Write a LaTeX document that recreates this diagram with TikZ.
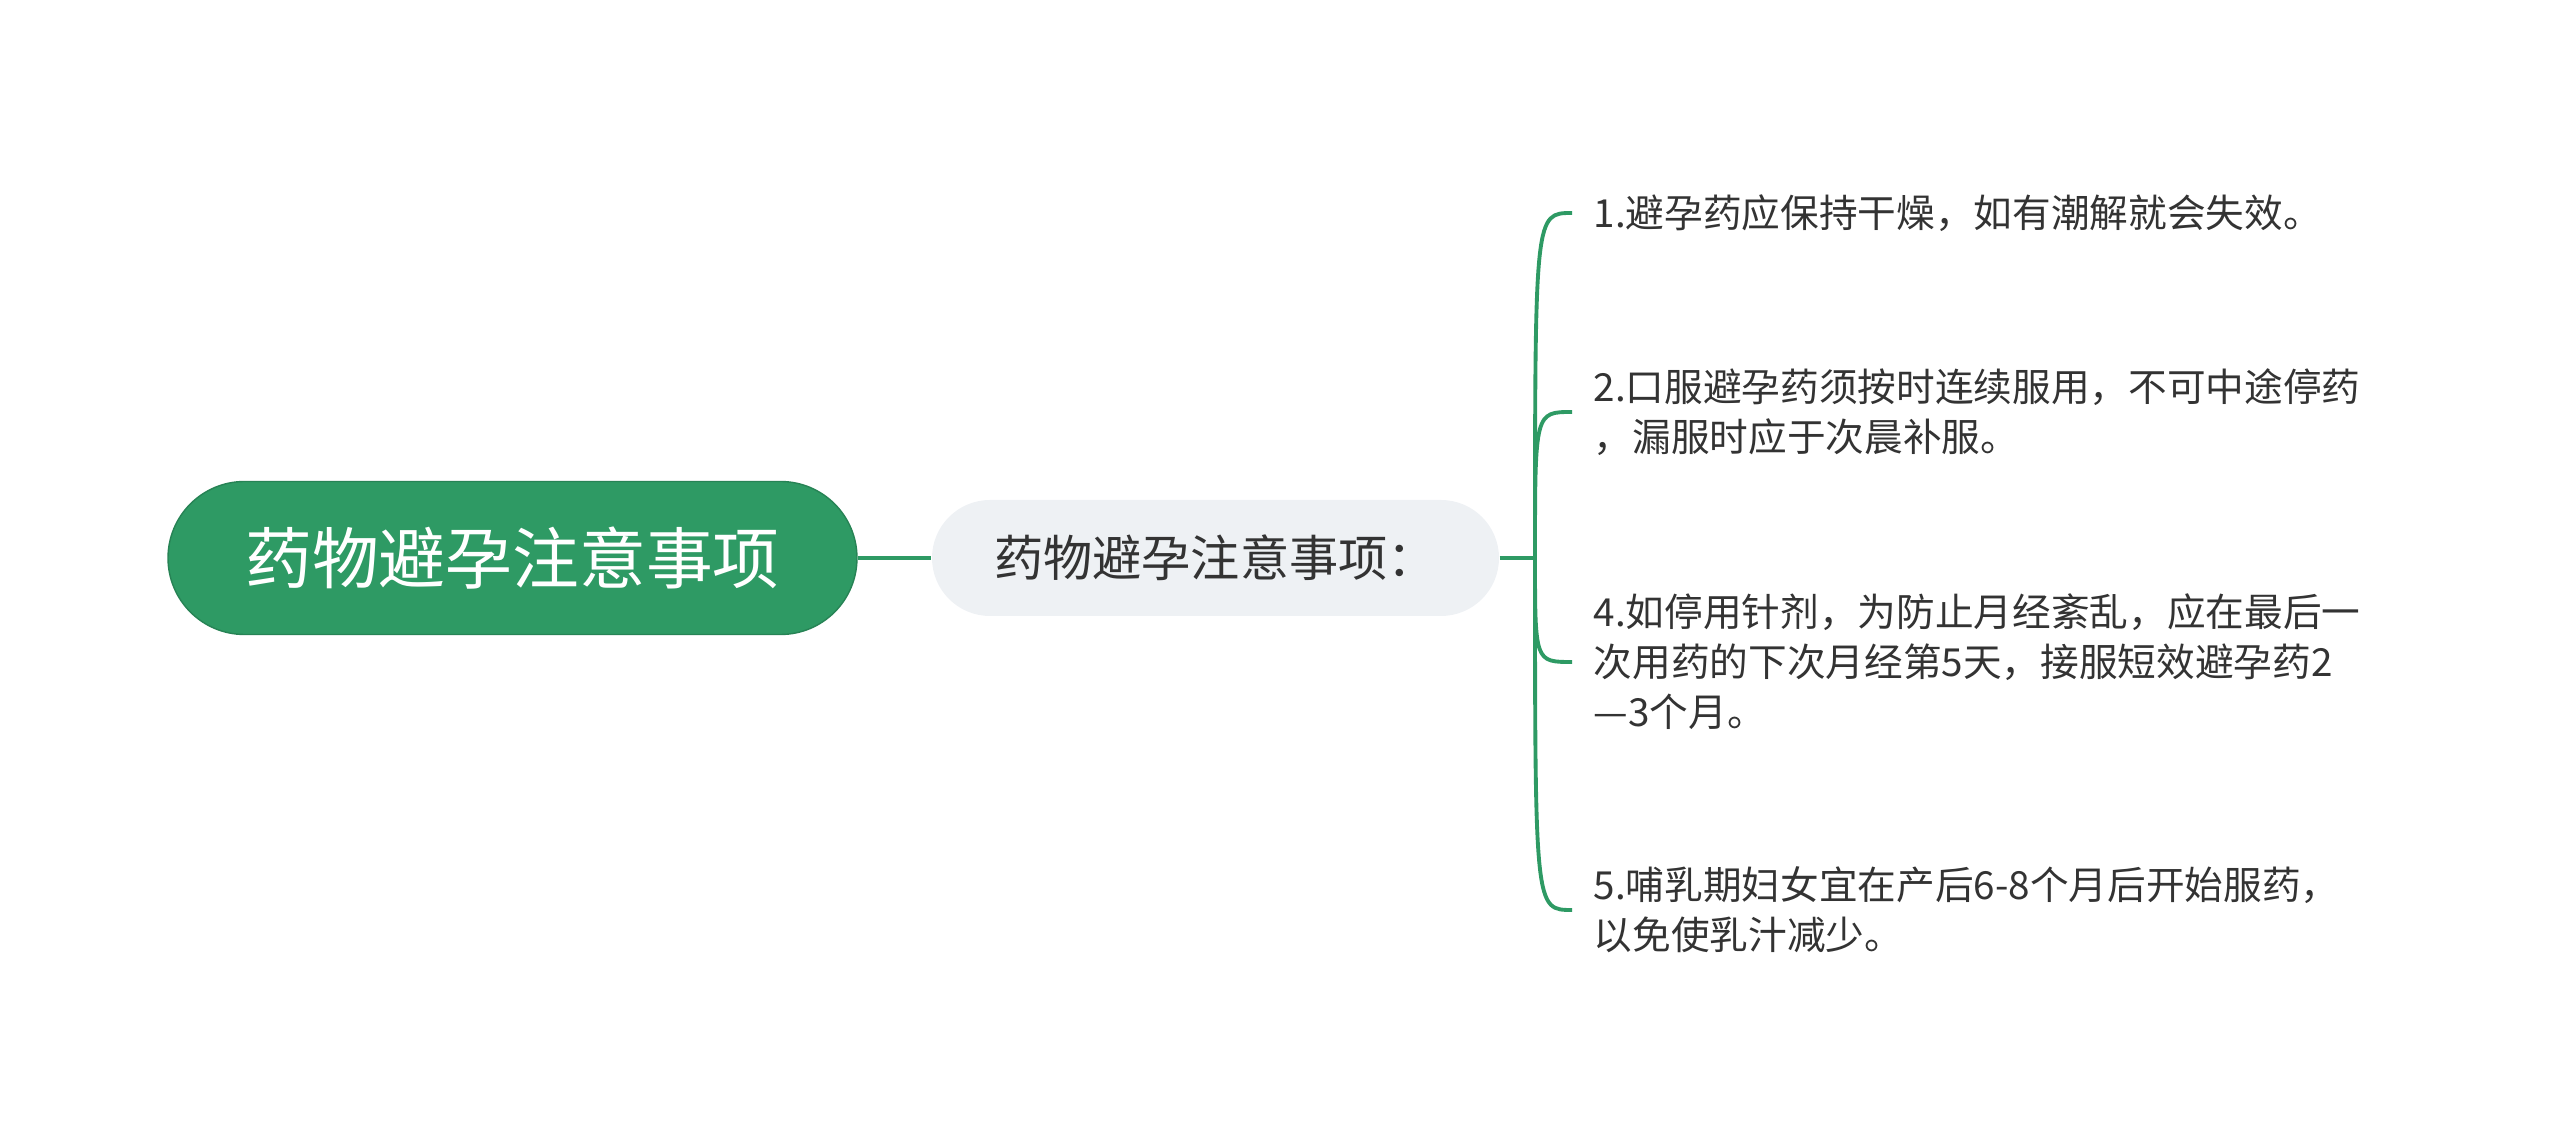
\documentclass[tikz,border=0pt]{standalone}
\usepackage{fontspec}
\setmainfont{Noto Sans CJK SC}
\usepackage{xcolor}
\definecolor{rootgreen}{HTML}{2E9A64}
\definecolor{topicgray}{HTML}{EEF1F4}
\definecolor{leaftext}{HTML}{333333}
\tikzset{rootbox/.style={draw=rootgreen!85!black, line width=0.4pt, fill=rootgreen,
  rounded corners=0.765cm, minimum width=6.89cm, minimum height=1.53cm,
  text=white, font=\fontsize{19}{23}\selectfont},
 topicbox/.style={fill=topicgray, rounded corners=0.58cm, minimum width=5.67cm,
  minimum height=1.16cm, text=leaftext, font=\fontsize{14}{17}\selectfont},
 leaf/.style={anchor=west, align=left, inner xsep=2.1mm, inner ysep=0pt,
  text=leaftext, font=\fontsize{11}{14.2}\selectfont},
 branch/.style={draw=rootgreen, line width=1.1pt},
 }

\begin{document}
\begin{tikzpicture}
        \useasboundingbox (0,0) rectangle (25.6,11.43);
        \node[rootbox] (root) at (5.125,5.85) {药物避孕注意事项};
        \node[topicbox] (topic) at (12.155,5.85) {药物避孕注意事项：};
        \coordinate (hub) at (15.35,5.85);
        \node[leaf] (l1) at (15.72,9.30) {1.避孕药应保持干燥，如有潮解就会失效。};
        \node[leaf] (l2) at (15.72,7.31) {2.口服避孕药须按时连续服用，不可中途停药\\，漏服时应于次晨补服。};
        \node[leaf] (l4) at (15.72,4.81) {4.如停用针剂，为防止月经紊乱，应在最后一\\次用药的下次月经第5天，接服短效避孕药2\\—3个月。};
        \node[leaf] (l5) at (15.72,2.33) {5.哺乳期妇女宜在产后6-8个月后开始服药，\\以免使乳汁减少。};
        \draw[branch] (root) -- (topic);
        \draw[branch] (topic) -- (hub);
        \draw[branch] (hub) .. controls (hub |- l1.west) .. (l1.west);
        \draw[branch] (hub) .. controls (hub |- l2.west) .. (l2.west);
        \draw[branch] (hub) .. controls (hub |- l4.west) .. (l4.west);
        \draw[branch] (hub) .. controls (hub |- l5.west) .. (l5.west);
    \end{tikzpicture}
\end{document}
